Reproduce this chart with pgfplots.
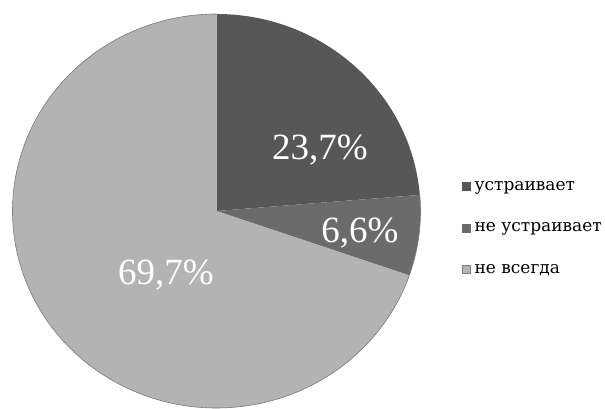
\documentclass[border=0pt]{standalone}
\usepackage{pgfplots}
\pgfplotsset{compat=1.18}
\usepackage{fontspec}
\setmainfont{Liberation Serif}
\newfontfamily\legfont{DejaVu Serif}
\definecolor{cA}{HTML}{575757}
\definecolor{cB}{HTML}{6B6B6B}
\definecolor{cC}{HTML}{B3B3B3}
\definecolor{edge}{HTML}{7A7A7A}
\begin{document}
\begin{tikzpicture}
% values (percent)
\def\vA{23.7}\def\vB{6.6}\def\vC{69.7}
\pgfmathsetmacro\aA{90}
\pgfmathsetmacro\aB{90-3.6*\vA}
\pgfmathsetmacro\aC{\aB-3.6*\vB}
\pgfmathsetmacro\aD{\aC-3.6*\vC}
\def\cx{216.5}\def\cy{198}
\begin{axis}[
  name=pie,
  scale only axis, width=605pt, height=409pt,
  xmin=0, xmax=605, ymin=0, ymax=409,
  hide axis, clip=false,
  legend image code/.code={\filldraw[#1] (0pt,-4pt) rectangle (8pt,4pt);},
  legend style={at={(axis cs:462,230)}, anchor=north west, draw=none, fill=none,
    font=\legfont\fontsize{17}{19}\selectfont, row sep=27pt,
    inner xsep=0pt, inner ysep=0pt, nodes={inner xsep=4pt}},
  legend cell align=left,
]
\fill[cA] (axis cs:\cx,\cy) -- ++(\aA:204pt and 197pt) arc[start angle=\aA, end angle=\aB, x radius=204pt, y radius=197pt] -- cycle;
\fill[cB] (axis cs:\cx,\cy) -- ++(\aB:204pt and 197pt) arc[start angle=\aB, end angle=\aC, x radius=204pt, y radius=197pt] -- cycle;
\fill[cC] (axis cs:\cx,\cy) -- ++(\aC:204pt and 197pt) arc[start angle=\aC, end angle=\aD, x radius=204pt, y radius=197pt] -- cycle;
\draw[edge, line width=0.6pt] (axis cs:\cx,\cy) ++(\aB:204pt and 197pt) arc[start angle=\aB, end angle=\aD, x radius=204pt, y radius=197pt];
\node[white, font=\fontsize{37}{40}\selectfont] at (axis cs:320,259) {23,7\%};
\node[white, font=\fontsize{37}{40}\selectfont] at (axis cs:360,176) {6,6\%};
\node[white, font=\fontsize{37}{40}\selectfont] at (axis cs:166,134) {69,7\%};
\addlegendimage{fill=cA, draw=cA}
\addlegendentry{устраивает}
\addlegendimage{fill=cB, draw=cB}
\addlegendentry{не устраивает}
\addlegendimage{fill=cC, draw=gray}
\addlegendentry{не всегда}
\end{axis}
\pgfresetboundingbox
\path[use as bounding box] (pie.south west) rectangle (pie.north east);
\end{tikzpicture}
\end{document}
